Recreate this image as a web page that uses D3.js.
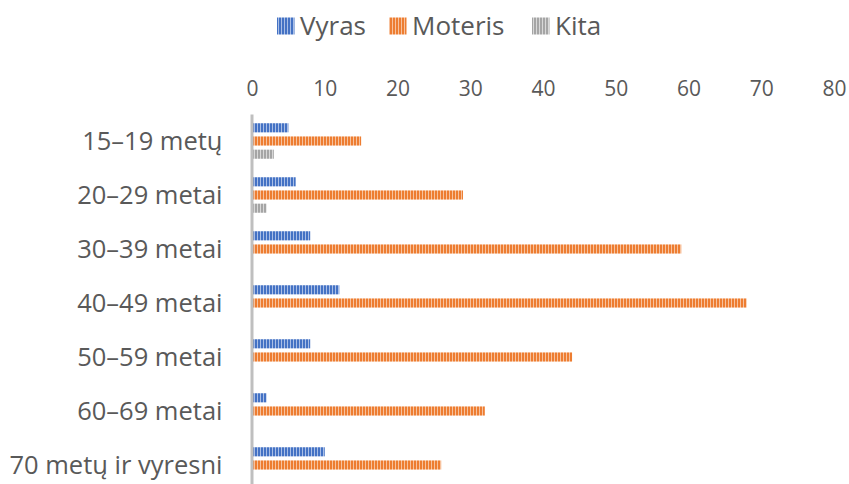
<!DOCTYPE html>
<html><head><meta charset="utf-8">
<script src="https://cdn.jsdelivr.net/npm/d3@7"></script>
<style>
html,body{margin:0;padding:0;background:#fff;}
text{font-family:"Open Sans",sans-serif;fill:#595959;}
</style></head>
<body><svg id="c" width="849" height="484"></svg>
<script>
const categories = ["15–19 metų","20–29 metai","30–39 metai","40–49 metai","50–59 metai","60–69 metai","70 metų ir vyresni"];
const seriesNames = ["Vyras","Moteris","Kita"];
const vyras = [5,6,8,12,8,2,10];
const moteris = [15,29,59,68,44,32,26];
const kita = [3,2,0,0,0,0,0];
const tickValues = [0,10,20,30,40,50,60,70,80];
const colors = ["#4472C4","#ED7D31","#A5A5A5"];
const lightColors = ["#A9BEE6","#F7C29E","#D8D8D8"];

const series = [vyras, moteris, kita];
const svg = d3.select("#c");

const defs = svg.append("defs");
colors.forEach((c,i)=>{
  const p = defs.append("pattern").attr("id","pat"+i).attr("patternUnits","userSpaceOnUse")
    .attr("width",3).attr("height",10);
  p.append("rect").attr("width",3).attr("height",10).attr("fill",c);
  p.append("rect").attr("x",2).attr("width",1).attr("height",10).attr("fill",lightColors[i]);
});

const x = d3.scaleLinear().domain([0,80]).range([252,834]);
const y = d3.scaleBand().domain(categories).range([114,492]).padding(0);
const inner = d3.scaleBand().domain(seriesNames).range([-20,20]).paddingInner(0.31).paddingOuter(0.17);

// x axis labels (top)
const xAxis = d3.axisTop(x).tickValues(tickValues).tickSize(0).tickPadding(0);
const gx = svg.append("g").attr("transform","translate(0,96)").call(xAxis);
gx.select(".domain").remove();
gx.selectAll("text").attr("font-size",21).attr("fill","#595959").attr("font-family","Open Sans");

// bars
categories.forEach((cat,ci)=>{
  const cy = y(cat) + y.bandwidth()/2;
  series.forEach((vals,si)=>{
    if (vals[ci] <= 0) return;
    svg.append("rect")
      .attr("x", x(0))
      .attr("y", cy + inner(seriesNames[si]))
      .attr("width", x(vals[ci]) - x(0))
      .attr("height", inner.bandwidth())
      .attr("fill","url(#pat"+si+")");
  });
});

// y axis
const yAxis = d3.axisLeft(y).tickSize(0).tickPadding(0);
const gy = svg.append("g").attr("transform","translate(251.5,0)").call(yAxis);
gy.select(".domain").attr("stroke","#BFBFBF").attr("stroke-width",3);
gy.selectAll("text").attr("x",-29).attr("dy","0.35em").attr("font-size",25.5).attr("fill","#595959").attr("font-family","Open Sans");

// legend
const legendX = [277,389,532];
const lg = svg.append("g");
seriesNames.forEach((n,i)=>{
  lg.append("rect").attr("x",legendX[i]).attr("y",17.5).attr("width",17.5).attr("height",17)
    .attr("fill","url(#pat"+i+")");
  lg.append("text").attr("x",legendX[i]+23).attr("y",26).attr("dy","0.35em")
    .attr("font-size",26).text(n);
});
</script></body></html>
